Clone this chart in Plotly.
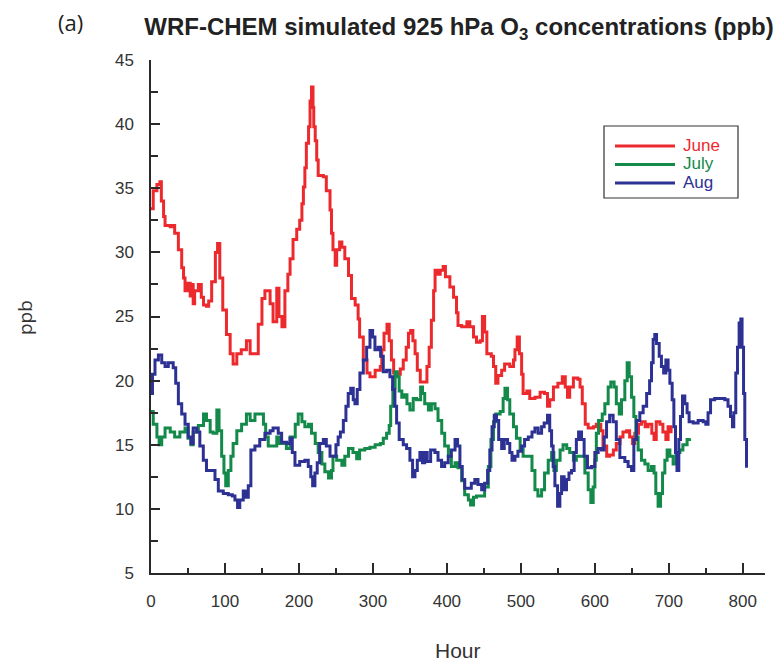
import plotly.graph_objects as go

# ---------------- data ----------------
june_hour = [0,3,8,12,14,17,19,26,30,32,37,41.5,44,46,50,53,55,57,59,64,68,71,75,78,82,87,90,93,97,102,107,111,116,122,129,134,140,145,150,154,161,165,170,173,177,181,185,188,192,197,201,204,206,208,210,213,215,217,219,220,222,224,226,233,237,242,244,246,249,251,255,258,262,267,271,276,280,282,287,292,296,303,310,312,315,319,322,325,328,332,337,341,345,348,351,354,357,360,364,369,373,376,379,382,384,388,391,395,398,404,409,413,415,420,427,431,436,440,445,448,451,454,460,463,466,469,474,478,485,490,492,495,498,501,503,508,512,519,526,532,536,539,544,550,556,560,563,566,571,577,580,583,587,591,598,602,608,611,616,620,625,629,634,638,643,647,651,654,659,663,668,672,677,680,683,688,692,696,699,703]
june_ppb = [33.4,34.8,35.3,35.5,34.0,32.8,32.1,32.0,32.1,31.5,30.2,28.8,28.0,27.0,27.6,26.6,27.5,26.0,27.0,27.5,26.5,25.9,25.8,26.2,27.7,30.0,30.7,28.0,25.5,23.6,22.1,21.3,22.1,22.4,23.1,22.1,22.1,24.4,26.4,27.0,26.0,24.6,27.2,25.0,24.2,27.0,28.3,29.5,31.0,31.8,32.5,33.8,35.1,36.6,38.5,39.8,41.8,42.9,41.3,39.8,38.7,37.2,36.0,35.9,34.8,33.3,31.5,30.2,29.0,30.2,30.8,30.4,29.5,28.2,26.4,25.9,24.8,23.4,21.6,20.6,20.3,20.8,21.1,22.4,23.7,24.4,23.1,21.6,20.6,20.5,20.9,21.6,22.6,23.7,23.9,23.1,22.1,20.8,19.9,19.9,21.1,22.6,24.7,27.0,28.6,28.3,28.6,28.9,28.1,27.3,26.5,25.3,24.3,24.2,24.6,24.2,23.4,23.0,23.1,25.0,23.8,22.1,21.9,21.1,19.8,20.4,20.8,21.3,21.1,21.6,22.4,23.4,22.1,20.5,19.0,19.2,18.6,18.7,19.1,19.0,18.0,18.5,19.5,19.8,20.3,19.5,18.7,19.5,20.2,20.1,19.5,18.2,16.6,16.3,16.4,16.6,16.1,14.9,14.1,14.2,14.6,15.1,15.6,16.0,16.1,15.6,15.1,15.9,16.6,16.8,16.4,16.6,15.9,15.4,16.8,16.6,16.0,15.4,16.4,15.9]

july_hour = [0,3,8,11,14.5,19,26,32,39,46,50,54,57,64,71,75,80,84,89,92,95.5,98.6,101,104.5,108,111,116,122.5,129,134,140.5,147,152,155,158.5,165,170,174,179,183,188,195,199,204,208,213,217,222,226,231,235,240,244,246,251,258,262,267,273,278,282,289,296,303,310,314,318.5,322,324,327,330,333,335.5,339,343,346,350,354.5,359,364.5,367,370,375,379,384,388,393,397,402,406,411,415,420,424,429,432,436,440,447,451,456,459.5,463,466,472,476,478.5,482,485,490,494,499,503,512,515,519,523,528,532,537,541.5,544.6,548,553,557,562,566,571,575,582,586.5,591,594.6,597.7,600,602,605,610,613.5,618,621.6,626,629,633,636,640.5,643.7,646.4,649.6,652.7,655.4,658.5,663,667.6,672,676.6,680,682.4,685.5,688.8,691.5,694.6,697.7,701.4,705.8,710,715,719,724.7,728]
july_ppb = [17.6,16.6,15.6,15.0,15.6,16.3,16.0,15.6,16.0,16.3,15.5,15.0,16.0,16.5,17.4,16.9,16.0,15.9,17.7,16.1,14.1,12.8,11.8,13.0,14.1,15.1,16.1,16.6,17.4,16.9,17.4,17.4,16.6,15.6,14.9,14.9,15.6,15.1,15.1,14.7,15.6,16.6,17.4,16.8,16.4,16.6,15.9,15.1,14.4,13.5,12.9,12.4,13.0,14.1,13.8,13.4,14.1,14.7,14.4,13.9,14.6,14.7,14.8,15.0,15.1,15.5,15.9,16.5,18.0,19.5,20.7,20.3,19.2,18.7,18.9,18.2,17.7,18.6,18.5,19.5,19.0,18.2,17.7,18.2,17.8,16.9,15.9,14.9,14.1,13.3,13.6,13.2,12.2,11.1,10.7,10.3,10.9,11.0,11.0,11.7,13.3,15.4,16.8,17.4,17.6,18.6,19.4,18.5,17.4,16.4,15.5,14.7,14.1,14.1,13.0,11.5,11.0,11.5,12.8,13.8,14.4,13.0,13.8,14.6,15.0,14.7,14.4,13.8,14.1,14.1,12.8,11.5,10.5,11.7,13.8,15.9,16.9,17.4,18.2,19.5,19.9,19.5,18.2,17.4,18.5,20.0,21.4,20.3,18.7,17.2,15.6,14.6,13.8,13.5,13.0,13.3,12.8,11.2,10.2,11.2,12.8,13.8,14.6,14.1,13.5,14.4,14.6,15.0,15.4,15.5]

aug_hour = [0,2,5.4,10,14.5,19,23.4,30,33.4,37,41.5,46,50.4,54,57,61.7,66,70.7,75,82,86.5,91,97.7,104.5,110,113.5,117,120,124.7,128.4,131.5,135,140.5,147,154,161,165,172,176.6,183.4,188,191,194.6,201,208,212.6,216,218.5,221.6,224.7,228,233,237,242,246,250,253,256,260,263.5,266.6,270,273.4,275.7,278.8,282.4,287,291.5,296,299.6,302.7,307,310.4,314,318.5,323,326.6,329.7,332,335.5,341,345.5,350,353.6,356.8,360,363.5,367,370,373.4,378,383.8,388,392.8,397,401.8,406,411,414.4,417.6,420.7,424,428.8,433,437.8,442,447,451,455,458,461,464,467,470,474,477.5,482,485,488,492,496,501,505,510,515,519,523.4,528,531.5,536,539,541.5,543.6,546,549.6,552.7,555,558.5,561.7,565,568.5,572,575,578,582,585.5,590,595.5,600,604.5,609,612.6,615.8,620,624.7,629,633.8,640.5,645,649.6,652.7,656.4,660.8,665.3,670,674,676.6,678.8,681,683.4,687,690,693,696,699,701.4,704.5,706.8,709,711,713.5,715.8,718.5,721.6,724.7,727.4,733,739.6,746.4,750,753,756.4,762,769,775.7,780,783.4,786,787.8,790.5,792.8,795,797.3,799,801,802.7,805]
aug_ppb = [19.0,20.5,21.6,22.0,21.4,21.1,21.4,21.0,19.8,18.2,17.4,16.6,15.6,15.1,16.3,16.0,14.9,13.8,13.0,13.0,12.3,11.4,11.2,11.1,11.0,10.7,10.1,10.7,11.4,10.9,11.8,14.6,14.9,15.4,15.9,16.1,16.3,15.9,15.2,15.1,15.5,14.4,13.4,13.7,13.8,13.3,12.5,11.8,12.8,13.6,15.1,15.4,14.9,14.1,14.1,15.0,15.6,16.0,16.9,18.0,19.0,19.4,18.5,18.2,19.3,20.6,21.6,22.6,23.9,23.4,22.4,22.6,21.9,20.7,20.8,20.3,19.3,18.0,16.7,15.4,15.0,14.7,13.8,12.5,13.0,13.8,14.4,13.6,14.4,13.7,14.6,14.4,13.8,13.3,13.6,14.1,14.6,15.4,14.9,13.3,12.3,11.6,11.6,12.0,12.3,11.9,11.5,12.0,13.0,14.6,16.4,17.3,16.9,15.4,14.7,15.4,15.1,14.4,13.8,14.1,14.5,14.9,15.4,15.6,16.0,16.3,15.9,16.4,16.7,17.3,16.1,14.9,13.3,11.8,10.2,11.2,12.5,11.5,12.3,12.8,13.0,14.4,15.4,16.0,15.4,14.1,13.2,13.3,14.4,14.7,14.6,15.6,16.8,17.3,16.8,15.4,14.0,13.7,13.3,13.0,15.4,16.9,17.5,18.0,19.0,20.0,21.4,23.2,23.6,22.9,21.9,21.1,20.6,21.6,20.8,19.8,18.5,16.4,14.4,13.0,15.4,17.2,18.8,18.2,17.5,16.8,16.7,16.9,16.8,16.6,17.5,18.5,18.6,18.6,18.5,18.0,17.2,16.4,17.5,20.6,22.6,24.5,24.8,22.6,19.0,15.4,13.2]

legend_labels = ["June", "July", "Aug"]
series_colors = ["#EC2A2E", "#13894A", "#2D3194"]

x_tick_vals = [0, 100, 200, 300, 400, 500, 600, 700, 800]
y_tick_vals = [5, 10, 15, 20, 25, 30, 35, 40, 45]

W, H = 783, 663
ML, MR, MT, MB = 151, 18, 60, 90
PW, PH = W - ML - MR, H - MT - MB


def px(xpix):
    return (xpix - ML) / PW


def py(ypix):
    return (H - MB - ypix) / PH


AX = "#2a2a2a"
SANS = "Liberation Sans, Arial, sans-serif"
TICKFONT = dict(family=SANS, size=17, color="#333333")

fig = go.Figure()
for hrs, vals, lab, col in zip([june_hour, july_hour, aug_hour],
                               [june_ppb, july_ppb, aug_ppb],
                               legend_labels, series_colors):
    fig.add_trace(go.Scatter(
        x=hrs, y=vals, mode="lines", line_shape="hv",
        line=dict(color=col, width=3), name=lab, showlegend=False,
    ))

# legend box drawn by hand (line samples are longer than Plotly's fixed ones)
shapes = [dict(type="rect", xref="paper", yref="paper",
               x0=px(604), x1=px(738), y0=py(198), y1=py(126),
               line=dict(color="#333333", width=1.2), fillcolor="white", layer="above")]
annotations = []
leg_y = [146, 164.5, 183]
for lab, col, yy in zip(legend_labels, series_colors, leg_y):
    shapes.append(dict(type="line", xref="paper", yref="paper",
                       x0=px(615), x1=px(675), y0=py(yy), y1=py(yy),
                       line=dict(color=col, width=3), layer="above"))
    annotations.append(dict(text=lab, xref="paper", yref="paper",
                            x=px(681), y=py(yy - 1), xanchor="left", yanchor="middle",
                            showarrow=False, font=dict(family=SANS, size=17, color=col)))

annotations += [
    dict(text="(a)", xref="paper", yref="paper",
         x=px(70), y=py(22), xanchor="center", yanchor="middle", showarrow=False,
         font=dict(family="Open Sans, sans-serif", size=22, color="#222222")),
    dict(text="ppb", xref="paper", yref="paper", textangle=-90,
         x=px(25), y=py(318), xanchor="center", yanchor="middle", showarrow=False,
         font=dict(family="Open Sans, sans-serif", size=19, color="#333333")),
    dict(text="Hour", xref="paper", yref="paper",
         x=px(458), y=py(650), xanchor="center", yanchor="middle", showarrow=False,
         font=dict(family=SANS, size=21, color="#333333")),
]

fig.update_layout(
    width=W, height=H,
    margin=dict(l=ML, r=MR, t=MT, b=MB, pad=0),
    paper_bgcolor="white", plot_bgcolor="white",
    showlegend=False,
    title=dict(
        text="<b>WRF-CHEM simulated 925 hPa O<sub>3</sub> concentrations (ppb)</b>",
        x=459 / W, xanchor="center", xref="container",
        y=1 - 27 / H, yanchor="middle", yref="container",
        font=dict(family=SANS, size=24, color="#222222"),
    ),
    xaxis=dict(
        range=[0, 830], tickvals=x_tick_vals,
        ticks="inside", ticklen=10, tickwidth=1.5, tickcolor=AX,
        minor=dict(dtick=50, tick0=0, ticks="inside", ticklen=5, tickwidth=1.5, tickcolor=AX),
        showline=True, linecolor=AX, linewidth=1.5,
        showgrid=False, zeroline=False,
        tickfont=TICKFONT, ticklabelstandoff=12,
    ),
    yaxis=dict(
        range=[5, 45], tickvals=y_tick_vals,
        ticks="inside", ticklen=9, tickwidth=1.5, tickcolor=AX,
        minor=dict(dtick=2.5, tick0=5, ticks="inside", ticklen=7, tickwidth=1.5, tickcolor=AX),
        showline=True, linecolor=AX, linewidth=1.5,
        showgrid=False, zeroline=False,
        tickfont=TICKFONT, ticklabelstandoff=12,
    ),
    shapes=shapes,
    annotations=annotations,
)

fig.write_html("out.html")
